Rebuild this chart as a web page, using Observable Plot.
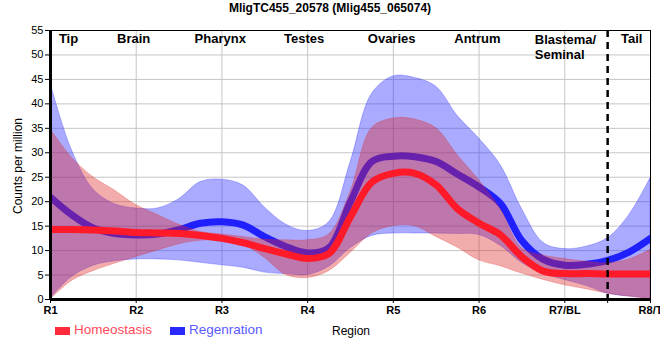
<!DOCTYPE html>
<html><head><meta charset="utf-8">
<script src="https://cdn.jsdelivr.net/npm/d3@7"></script>
<script src="https://cdn.jsdelivr.net/npm/@observablehq/plot@0.6"></script>
<style>
body{margin:0;background:#fff;font-family:"Liberation Sans",Arial,sans-serif;}
#wrap{position:relative;width:660px;height:360px;overflow:hidden;}
#wrap svg{position:absolute;left:0;top:0;}
.abs{position:absolute;white-space:nowrap;}
#title{top:1px;left:0;width:660px;text-align:center;font-weight:bold;font-size:12px;}
#ylab{left:18px;top:166px;font-size:12px;transform:translate(-50%,-50%) rotate(-90deg);}
.sw{position:absolute;width:15px;height:8px;top:327px;}
.lt{top:322px;font-size:13.5px;}
</style></head>
<body>
<div id="wrap">
  <div id="chart"></div>
  <div id="title" class="abs"></div>
  <div id="ylab" class="abs"></div>
  <div class="sw" style="left:55px;background:#ff2a3a"></div>
  <div id="leg1" class="abs lt" style="left:74px;color:#ff4a5a"></div>
  <div class="sw" style="left:170px;background:#2a2aff"></div>
  <div id="leg2" class="abs lt" style="left:189px;color:#5a5aff"></div>
  <div id="xlab" class="abs" style="left:332px;top:324px;font-size:12px;color:#000"></div>
</div>
<script>
const titleText = "MligTC455_20578 (Mlig455_065074)";
const yLabel = "Counts per million";
const xLabelText = "Region";
const seriesNames = ["Homeostasis", "Regenration"];
const xTicks = [1, 2, 3, 4, 5, 6, 7, 8];
const xLabels = ["R1", "R2", "R3", "R4", "R5", "R6", "R7/BL", "R8/T"];
const yTicks = [0, 5, 10, 15, 20, 25, 30, 35, 40, 45, 50, 55];
const regionNames = ["Tip", "Brain", "Pharynx", "Testes", "Ovaries", "Antrum", "Blastema/\nSeminal", "Tail"];
const regionPos = [1.21, 1.97, 2.98, 3.96, 4.98, 5.98, 6.65, 7.78];
const boundary = [7.5];

const positions = [1, 1.25, 1.5, 1.75, 2, 2.25, 2.5, 2.75, 3, 3.25, 3.5, 3.75, 4, 4.25, 4.5, 4.75, 5, 5.25, 5.5, 5.75, 6, 6.25, 6.5, 6.75, 7, 7.25, 7.5, 7.75, 8];
const homeoMean = [14.3, 14.3, 14.2, 14, 13.7, 13.6, 13.5, 13.1, 12.5, 11.6, 10.4, 9.3, 8.4, 9.4, 16.9, 24, 25.8, 25.8, 23.4, 18.5, 15.6, 13.2, 8.7, 5.8, 5.3, 5.3, 5.2, 5.2, 5.2];
const homeoLow  = [0, 3.8, 5.8, 7.3, 8.7, 10, 11.3, 12, 12, 11.2, 8.5, 5, 4.4, 5.8, 9.5, 13.5, 15, 15, 12.8, 10.6, 8, 6.8, 5.3, 4, 2.9, 2.1, 1.2, 0.6, 0];
const homeoHigh = [34.8, 29, 25, 22.3, 19.3, 17.3, 15.3, 13.8, 13.3, 12.8, 12.2, 12.1, 12.1, 13.3, 22, 35, 37, 36.8, 35, 29.5, 24.4, 18.5, 10.5, 9, 8.3, 7.7, 7.4, 8.2, 10.1];
const regenMean = [20.9, 17.3, 14.6, 13.5, 13.2, 13.4, 14.3, 15.6, 15.9, 15.2, 12.8, 10.8, 9.5, 10.6, 20, 28.2, 29.3, 29.2, 28.2, 25.6, 23, 19.6, 12, 8.2, 7, 7.2, 8, 9.7, 12.5];
const regenLow  = [0.2, 4.6, 6.9, 7.8, 8.2, 8.2, 8, 7.5, 7, 6.5, 5.5, 5.2, 5, 6.7, 10.5, 13, 13.5, 13.5, 13.5, 13.4, 13.2, 11, 7.5, 5.3, 4, 2.8, 1.2, 0.6, 0.2];
const regenHigh = [44.2, 30.5, 22.5, 19.5, 18.6, 18.6, 20.5, 24, 24.5, 23.3, 18.8, 15.3, 14, 15.8, 28, 42, 45.6, 45.3, 43.5, 37.5, 32.9, 27.5, 18.5, 11.6, 10.3, 10.8, 12.5, 17.2, 24.8];

document.getElementById("title").textContent = titleText;
document.getElementById("ylab").textContent = yLabel;
document.getElementById("xlab").textContent = xLabelText;
document.getElementById("leg1").textContent = seriesNames[0];
document.getElementById("leg2").textContent = seriesNames[1];

const table = positions.map((x, i) => ({
  x, hm: homeoMean[i], hl: homeoLow[i], hh: homeoHigh[i],
  rm: regenMean[i], rl: regenLow[i], rh: regenHigh[i]
}));
const regions = regionNames.map((name, i) => ({name, x: regionPos[i]}));
const curve = "catmull-rom";

const chart = Plot.plot({
  width: 660, height: 360,
  marginLeft: 50, marginRight: 10, marginTop: 30, marginBottom: 61,
  x: {domain: [1, 8]},
  y: {domain: [0, 55]},
  style: {fontFamily: "Liberation Sans, Arial, sans-serif", fontSize: "11px", color: "#000", background: "transparent", overflow: "visible"},
  marks: [
    Plot.gridY(yTicks.slice(1), {stroke: "#c6c6c6", strokeOpacity: 1}),
    Plot.gridX(xTicks.slice(1, 7), {stroke: "#c6c6c6", strokeOpacity: 1}),
    Plot.areaY(table, {x: "x", y1: "rl", y2: "rh", fill: "#2a2aff", fillOpacity: 0.4, stroke: "#2a2aff", strokeOpacity: 0.3, curve, clip: true}),
    Plot.lineY(table, {x: "x", y: "rm", stroke: "#2020ff", strokeWidth: 7, curve, clip: true}),
    Plot.areaY(table, {x: "x", y1: "hl", y2: "hh", fill: "#e02424", fillOpacity: 0.38, stroke: "#e02424", strokeOpacity: 0.25, curve, clip: true}),
    Plot.lineY(table, {x: "x", y: "hm", stroke: "#ff1a2a", strokeWidth: 7, curve, clip: true}),
    Plot.ruleX(boundary, {stroke: "#000", strokeWidth: 2.5, strokeDasharray: "7,5"}),
    Plot.ruleY([55], {stroke: "#000", strokeWidth: 1}),
    Plot.ruleX([8], {stroke: "#000", strokeWidth: 1}),
    Plot.axisY({ticks: yTicks, tickSize: 5, tickPadding: 2, label: null, fontSize: 11}),
    Plot.axisX({ticks: xTicks, tickFormat: (d, i) => xLabels[i], tickSize: 4, tickPadding: 3, label: null, fontWeight: "bold", fontSize: 11}),
    Plot.axisX({ticks: boundary, tickFormat: () => "", tickSize: 4, label: null}),
    Plot.ruleX([1], {stroke: "#000", strokeWidth: 3}),
    Plot.ruleY([0], {stroke: "#000", strokeWidth: 3}),
    Plot.text(regions, {filter: d => !d.name.includes("\n"), x: "x", text: "name", frameAnchor: "top", dy: 3, lineAnchor: "top", fontWeight: "bold", fontSize: 13}),
    Plot.text(regions, {filter: d => d.name.includes("\n"), x: "x", text: "name", frameAnchor: "top", dy: 3, lineAnchor: "top", textAnchor: "start", lineHeight: 1.15, fontWeight: "bold", fontSize: 13})
  ]
});
document.getElementById("chart").appendChild(chart);
</script>
</body></html>
